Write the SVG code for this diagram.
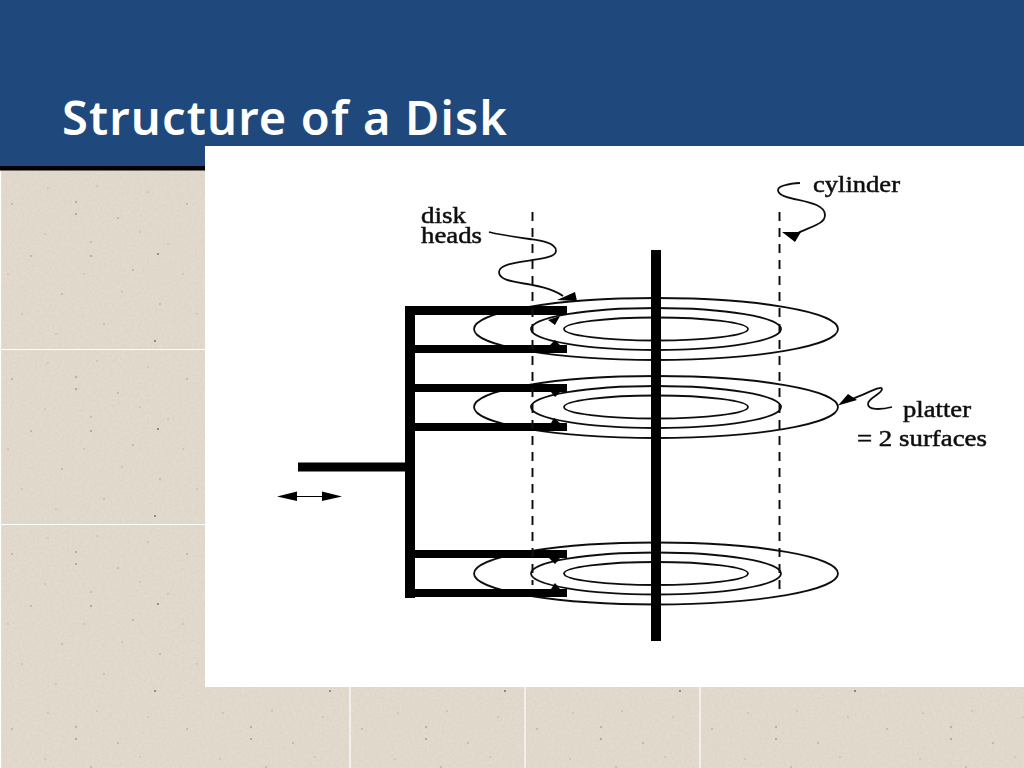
<svg xmlns="http://www.w3.org/2000/svg" width="1024" height="768" viewBox="0 0 1024 768">
<style>
.gridline{stroke:#fff;stroke-width:1.2;fill:none}
.arm{fill:#000}
.ring{fill:none;stroke:#111;stroke-width:1.8}
.dash{fill:none;stroke:#111;stroke-width:2;stroke-dasharray:9 7}
.lead{fill:none;stroke:#111;stroke-width:1.8}
.label{font-family:"Liberation Serif","Times New Roman",serif;font-size:23px;fill:#111;stroke:#111;stroke-width:.5}
.title{font-family:"Noto Sans","DejaVu Sans",sans-serif;font-weight:600;font-size:47px;fill:#fff}
</style>
<defs>
<pattern id="paper" width="175" height="175" patternUnits="userSpaceOnUse" x="0" y="174">
<rect width="175" height="175" fill="#e2dacd"/>
<g fill="#a99e8c" opacity=".7">
<circle cx="12" cy="30" r="1"/><circle cx="31" cy="82" r="1.1"/><circle cx="48" cy="14" r=".8"/><circle cx="62" cy="120" r="1"/><circle cx="76" cy="28" r="1.2"/><circle cx="91" cy="68" r=".9"/><circle cx="104" cy="150" r=".9"/><circle cx="118" cy="44" r="1"/><circle cx="133" cy="96" r="1.1"/><circle cx="148" cy="18" r=".8"/><circle cx="160" cy="130" r="1"/><circle cx="22" cy="140" r=".8"/><circle cx="45" cy="60" r=".8"/><circle cx="84" cy="100" r=".8"/><circle cx="122" cy="118" r=".8"/><circle cx="168" cy="70" r=".8"/><circle cx="8" cy="100" r=".8"/><circle cx="56" cy="160" r=".8"/><circle cx="97" cy="12" r=".8"/><circle cx="140" cy="58" r=".8"/>
</g>
<g fill="#6f675b"><circle cx="155" cy="167" r="1"/><circle cx="158" cy="80" r=".9"/><circle cx="76" cy="40" r=".8"/><circle cx="91" cy="82" r=".8"/></g>
</pattern>
<filter id="grain" x="0" y="0" width="100%" height="100%">
<feTurbulence type="fractalNoise" baseFrequency=".4" numOctaves="2" seed="4"/>
<feColorMatrix values="0 0 0 0 .62  0 0 0 0 .56  0 0 0 0 .46  .6 0 0 0 -.22"/>
</filter>
<filter id="soft" x="-5%" y="-5%" width="110%" height="110%"><feGaussianBlur stdDeviation=".45"/></filter>
<g id="platterShape">
<ellipse class="ring" cx="656" cy="0" rx="182" ry="31"/>
<ellipse class="ring" cx="656" cy="0" rx="125" ry="21"/>
<ellipse class="ring" cx="656" cy="0" rx="92" ry="11.5"/>
</g>
</defs>
<g id="background">
<rect width="1024" height="768" fill="url(#paper)"/>
<rect width="1024" height="768" filter="url(#grain)"/>
<path class="gridline" d="M0 349.500H205M0 524.500H205M350 687V768M525 687V768M700 687V768M.5 170V768"/>
<rect width="1024" height="167" fill="#1f497d"/>
<rect y="166" width="205" height="4.500" fill="#000"/>
<rect x="205" y="146" width="819" height="541" fill="#fff"/>
</g>
<text id="title" class="title" x="62" y="135" textLength="445">Structure of a Disk</text>
<g filter="url(#soft)">
<g id="platter-1"><use href="#platterShape" y="329"/></g>
<g id="platter-2"><use href="#platterShape" y="407"/></g>
<g id="platter-3"><use href="#platterShape" y="573.500"/></g>
<g id="spindle"><rect class="arm" x="651" y="250" width="10" height="391"/></g>
<g id="head-assembly">
<rect class="arm" x="405" y="306" width="10" height="292"/>
<rect class="arm" x="298" y="462.500" width="107" height="9"/>
<rect class="arm" x="405" y="306" width="162" height="9"/>
<rect class="arm" x="405" y="345" width="162" height="8"/>
<rect class="arm" x="405" y="384" width="162" height="8"/>
<rect class="arm" x="405" y="423" width="162" height="8"/>
<rect class="arm" x="405" y="550" width="162" height="8"/>
<rect class="arm" x="405" y="589" width="162" height="8"/>
<path d="M548 320L560 316L555 325ZM550 345L560 345L555 340ZM551 392L560 392L555 397ZM551 423L560 423L554 418ZM549 558L560 558L555 564ZM551 589L560 589L555 583Z"/>
</g>
<g id="connectors">
<path class="dash" d="M532.500 212V585"/>
<path class="dash" d="M779.500 212V592"/>
<path class="lead" d="M489 232C520 240 556 238 556 251C556 263 499 258 499 272C499 286 540 280 563 296"/>
<path d="M557 300L575 292L577 301Z"/>
<path class="lead" d="M800 183C785 184 778 186 778 190C778 202 825 198 825 215C825 224 812 226 798 233"/>
<path d="M782 232L801 232L795 242Z"/>
<path class="lead" d="M892 407C880 410 868 410 868 404C868 398 882 394 882 389C882 385 870 392 852 399"/>
<path d="M838 405.500L848 394L857 400Z"/>
<path d="M277 496.500L297 491.500V496H322V491.500L342 496.500L322 501V497H297V501Z"/>
</g>
<g id="labels">
<text class="label" x="421" y="223" textLength="45" lengthAdjust="spacingAndGlyphs">disk</text>
<text class="label" x="421" y="243" textLength="61" lengthAdjust="spacingAndGlyphs">heads</text>
<text class="label" x="813" y="192" textLength="87" lengthAdjust="spacingAndGlyphs">cylinder</text>
<text class="label" x="903" y="417" textLength="68" lengthAdjust="spacingAndGlyphs">platter</text>
<text class="label" x="857" y="446" textLength="130" lengthAdjust="spacingAndGlyphs">= 2 surfaces</text>
</g>
</g>
</svg>
